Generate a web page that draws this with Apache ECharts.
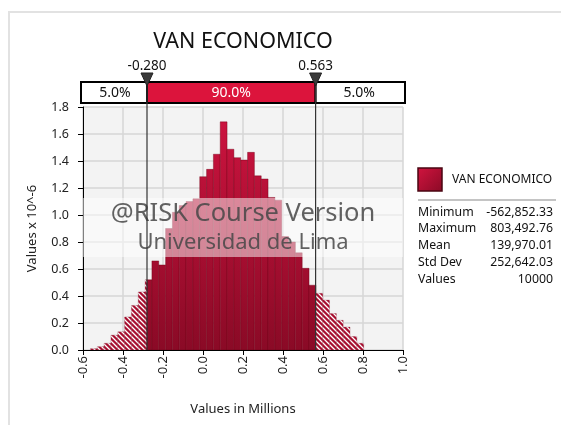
<!DOCTYPE html>
<html>
<head>
<meta charset="utf-8">
<script src="https://cdn.jsdelivr.net/npm/echarts@6/dist/echarts.min.js"></script>
<style>
html, body { margin: 0; padding: 0; background: #fff; }
#chart { width: 561px; height: 425px; }
</style>
</head>
<body>
<div id="chart"></div>
<script>
// VAN ECONOMICO - simulated distribution (values in millions, density x 10^-6)
const histMin = -0.56285233;
const histMax = 0.80349276;
const density = [0.01, 0.025, 0.05, 0.11, 0.135, 0.245, 0.33, 0.43,
    0.52, 0.66, 0.63, 0.90, 1.02, 1.07, 1.10, 1.12,
    1.284, 1.338, 1.45, 1.69, 1.487, 1.425, 1.407, 1.464,
    1.29, 1.267, 1.13, 1.11, 0.84, 0.80, 0.72, 0.605,
    0.48, 0.42, 0.37, 0.27, 0.22, 0.17, 0.10, 0.05];
const pLow = -0.280;
const pHigh = 0.563;
const pLabels = ['-0.280', '0.563'];
const pctLabels = ['5.0%', '90.0%', '5.0%'];
const statLabels = ['Minimum', 'Maximum', 'Mean', 'Std Dev', 'Values'];
const statValues = ['-562,852.33', '803,492.76', '139,970.01', '252,642.03', '10000'];

const FONT = 'Noto Sans';
const binWidth = (histMax - histMin) / density.length;
const bins = density.map((v, i) => [histMin + i * binWidth, histMin + (i + 1) * binWidth, v]);

// hatch pattern for the tails
const hatch = document.createElement('canvas');
hatch.width = 5; hatch.height = 5;
(function () {
    const c = hatch.getContext('2d');
    c.fillStyle = '#a80f30';
    c.fillRect(0, 0, 5, 5);
    c.strokeStyle = '#ffffff';
    c.lineWidth = 1.3;
    c.beginPath();
    c.moveTo(-1, -1); c.lineTo(6, 6);
    c.moveTo(-1, 4); c.lineTo(1, 6);
    c.moveTo(4, -1); c.lineTo(6, 1);
    c.stroke();
})();

let chart = echarts.init(document.getElementById('chart'));

function renderBin(params, api) {
    const a = api.value(0), b = api.value(1), v = api.value(2);
    const top = api.coord([0, 1.8])[1];
    const bottom = api.coord([0, 0])[1];
    const solidFill = {
        type: 'linear', x: 0, y: top, x2: 0, y2: bottom, global: true,
        colorStops: [{offset: 0, color: '#cf1440'}, {offset: 1, color: '#8a0a26'}]
    };
    const parts = [];
    const addPart = (s, e, fill) => {
        if (e <= s) return;
        const p0 = api.coord([s, v]);
        const p1 = api.coord([e, 0]);
        parts.push({
            type: 'rect',
            shape: {x: p0[0], y: p0[1], width: p1[0] - p0[0], height: p1[1] - p0[1]},
            style: {fill: fill, stroke: 'rgba(110,0,25,0.35)', lineWidth: 0.6}
        });
    };
    addPart(a, Math.min(b, pLow), {image: hatch, repeat: 'repeat'});
    addPart(Math.max(a, pLow), Math.min(b, pHigh), solidFill);
    addPart(Math.max(a, pHigh), b, {image: hatch, repeat: 'repeat'});
    return {type: 'group', children: parts};
}

chart.setOption({
    animation: false,
    grid: {
        left: 83, right: 158, top: 107, bottom: 75,
        show: true, backgroundColor: '#f3f3f3', borderWidth: 0
    },
    xAxis: {
        type: 'value', min: -0.6, max: 1.0, interval: 0.2,
        name: 'Values in Millions', nameLocation: 'middle', nameGap: 53,
        nameTextStyle: {fontFamily: FONT, fontSize: 13, color: '#222'},
        axisLine: {show: true, onZero: false, lineStyle: {color: '#000', width: 1}},
        axisTick: {show: true, length: 5, lineStyle: {color: '#000'}},
        axisLabel: {
            rotate: 90, margin: 6, fontFamily: FONT, fontSize: 13, color: '#222',
            formatter: v => v.toFixed(1)
        },
        splitLine: {show: true, lineStyle: {color: '#d6d6d6', width: 1.5}}
    },
    yAxis: {
        type: 'value', min: 0, max: 1.8, interval: 0.2,
        name: 'Values x 10^-6', nameLocation: 'middle', nameGap: 44,
        nameTextStyle: {fontFamily: FONT, fontSize: 13, color: '#222'},
        axisLine: {show: true, onZero: false, lineStyle: {color: '#000', width: 1}},
        axisTick: {show: true, length: 5, lineStyle: {color: '#000'}},
        axisLabel: {margin: 14, fontFamily: FONT, fontSize: 12.5, color: '#222', formatter: v => v.toFixed(1)},
        splitLine: {show: true, lineStyle: {color: '#d6d6d6', width: 1.5}}
    },
    series: [{
        type: 'custom',
        name: 'VAN ECONOMICO',
        renderItem: renderBin,
        encode: {x: [0, 1], y: 2},
        data: bins,
        clip: true
    }]
});

// overlay pieces placed from the axis scale
const xL = chart.convertToPixel({xAxisIndex: 0}, -0.6);
const xR = chart.convertToPixel({xAxisIndex: 0}, 1.0);
const xp1 = chart.convertToPixel({xAxisIndex: 0}, pLow);
const xp2 = chart.convertToPixel({xAxisIndex: 0}, pHigh);
const yBot = chart.convertToPixel({yAxisIndex: 0}, 0);
const xMid = (xL + xR) / 2;
const barY = 82, barH = 21;

const graphics = [
    // panel frame
    {type: 'rect', shape: {x: 9, y: 12, width: 560, height: 420}, style: {fill: 'none', stroke: '#e2e2e2', lineWidth: 2}, z: 1},
    {type: 'text', x: xMid, y: 42, style: {text: 'VAN ECONOMICO', fontFamily: FONT, fontSize: 21.5, fill: '#111', align: 'center', verticalAlign: 'middle'}},
    // watermark band
    {type: 'rect', shape: {x: xL, y: 198, width: xR - xL, height: 59}, style: {fill: 'rgba(255,255,255,0.5)'}, z: 50},
    {type: 'text', x: xMid, y: 214, style: {text: '@RISK Course Version', fontFamily: FONT, fontSize: 25.5, fill: 'rgba(70,70,70,0.85)', align: 'center', verticalAlign: 'middle'}, z: 51},
    {type: 'text', x: xMid, y: 243, style: {text: 'Universidad de Lima', fontFamily: FONT, fontSize: 22, fill: 'rgba(70,70,70,0.85)', align: 'center', verticalAlign: 'middle'}, z: 51},
    // percentile strip
    {type: 'rect', shape: {x: xL - 2, y: barY, width: xp1 - xL + 2, height: barH}, style: {fill: '#fff', stroke: '#000', lineWidth: 2}, z: 60},
    {type: 'rect', shape: {x: xp1, y: barY, width: xp2 - xp1, height: barH}, style: {fill: '#dc143c', stroke: '#000', lineWidth: 2}, z: 60},
    {type: 'rect', shape: {x: xp2, y: barY, width: xR + 2 - xp2, height: barH}, style: {fill: '#fff', stroke: '#000', lineWidth: 2}, z: 60},
    {type: 'text', x: (xL + xp1) / 2, y: barY + barH / 2 + 1, style: {text: pctLabels[0], fontFamily: FONT, fontSize: 14, fill: '#111', align: 'center', verticalAlign: 'middle'}, z: 61},
    {type: 'text', x: (xp1 + xp2) / 2, y: barY + barH / 2 + 1, style: {text: pctLabels[1], fontFamily: FONT, fontSize: 14, fill: '#fff', align: 'center', verticalAlign: 'middle'}, z: 61},
    {type: 'text', x: (xp2 + xR) / 2, y: barY + barH / 2 + 1, style: {text: pctLabels[2], fontFamily: FONT, fontSize: 14, fill: '#111', align: 'center', verticalAlign: 'middle'}, z: 61}
];
[xp1, xp2].forEach((x, i) => {
    graphics.push(
        {type: 'line', shape: {x1: x, y1: 76, x2: x, y2: yBot}, style: {stroke: '#333', lineWidth: 1.2}, z: 62},
        {type: 'polygon', shape: {points: [[x - 6, 73], [x + 6, 73], [x, 86]]}, style: {fill: '#3a3a3a', stroke: '#222', lineWidth: 1}, z: 63},
        {type: 'text', x: x, y: 66, style: {text: pLabels[i], fontFamily: FONT, fontSize: 13.5, fill: '#111', align: 'center', verticalAlign: 'middle'}, z: 63}
    );
});

// legend + statistics
const lx = 418, rx = 553;
graphics.push(
    {type: 'rect', shape: {x: lx, y: 168, width: 24, height: 23}, style: {
        fill: {type: 'linear', x: 0, y: 0, x2: 1, y2: 1, colorStops: [{offset: 0, color: '#d2143f'}, {offset: 1, color: '#8a0a26'}]},
        stroke: '#4a0612', lineWidth: 1.5}},
    {type: 'text', x: 452, y: 180, style: {text: 'VAN ECONOMICO', fontFamily: FONT, fontSize: 12, fill: '#111', verticalAlign: 'middle'}},
    {type: 'line', shape: {x1: lx, y1: 200, x2: 556, y2: 200}, style: {stroke: '#b0b0b0', lineWidth: 1.5}}
);
statLabels.forEach((s, i) => {
    const y = 212 + i * 16.8;
    graphics.push(
        {type: 'text', x: lx, y: y, style: {text: s, fontFamily: FONT, fontSize: 12.3, fill: '#111', verticalAlign: 'middle'}},
        {type: 'text', x: rx, y: y, style: {text: statValues[i], fontFamily: FONT, fontSize: 12.3, fill: '#111', align: 'right', verticalAlign: 'middle'}}
    );
});

chart.setOption({graphic: graphics});
</script>
</body>
</html>
